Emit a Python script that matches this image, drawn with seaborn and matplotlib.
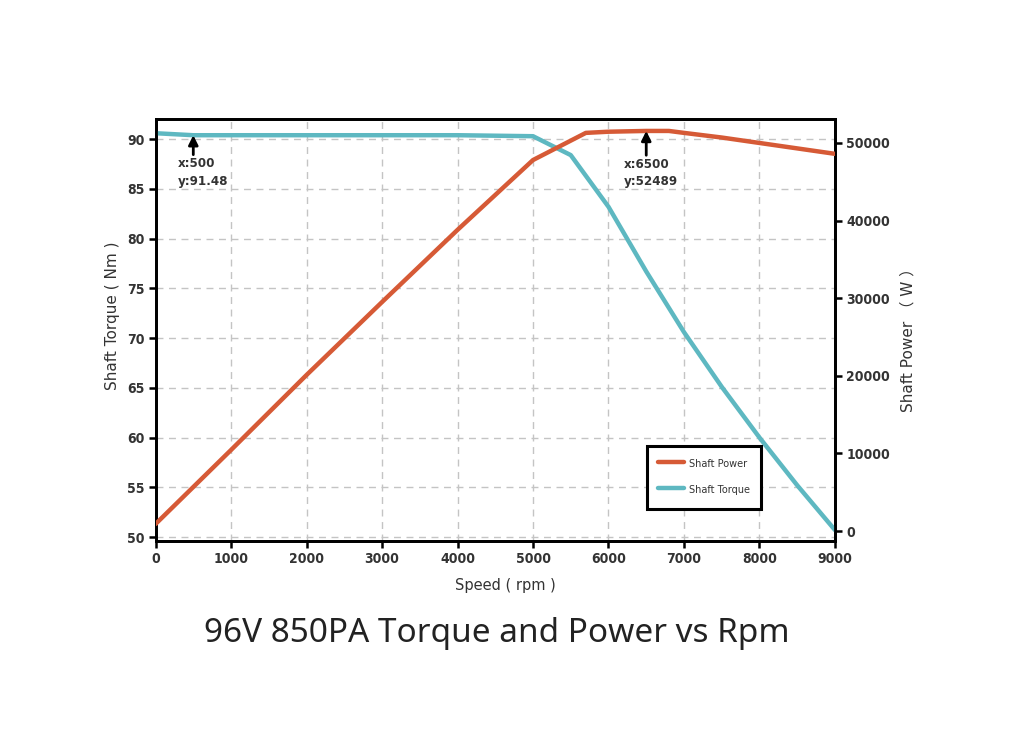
import matplotlib
matplotlib.use("Agg")
import matplotlib.pyplot as plt
from matplotlib import font_manager
import seaborn as sns

# ---------------- data ----------------
speed_torque = [0, 500, 1000, 2000, 3000, 4000, 5000, 5500, 6000, 6500, 7000, 7500, 8000, 8500, 9000]
torque_nm = [90.6, 90.4, 90.4, 90.4, 90.4, 90.4, 90.3, 88.4, 83.2, 76.7, 70.6, 65.1, 60.0, 55.2, 50.7]

speed_power = [0, 1000, 2000, 3000, 4000, 5000, 5500, 5700, 6000, 6500, 6800, 7000, 7500, 8000, 8500, 9000]
power_w = [900, 10440, 20100, 29500, 38800, 47800, 50300, 51300, 51450, 51550, 51550, 51300, 50700, 50000, 49300, 48600]

x_ticks = [0, 1000, 2000, 3000, 4000, 5000, 6000, 7000, 8000, 9000]
torque_ticks = [50, 55, 60, 65, 70, 75, 80, 85, 90]
power_ticks = [0, 10000, 20000, 30000, 40000, 50000]

annot_torque_x, annot_torque_y, annot_torque_text = 500, 90.4, "x:500\ny:91.48"
annot_power_x, annot_power_y, annot_power_text = 6500, 51550, "x:6500\ny:52489"

title_text = "96V 850PA Torque and Power vs Rpm"
xlabel_text = "Speed ( rpm )"
ylabel_left = "Shaft Torque ( Nm )"
ylabel_right = "Shaft Power （ W ）"
legend_power = "Shaft Power"
legend_torque = "Shaft Torque"

# ---------------- style ----------------
ORANGE = "#D65A36"
TEAL = "#5EB8C1"
TXT = "#333333"

sns.set_style("ticks")
plt.rcParams["font.family"] = ["DejaVu Sans", "Noto Sans CJK SC"]

installed = {f.name for f in font_manager.fontManager.ttflist}
title_font = "Noto Sans" if "Noto Sans" in installed else "DejaVu Sans"
NARROW = dict(fontfamily="DejaVu Sans", fontstretch="condensed", fontweight="bold")

fig = plt.figure(figsize=(10.24, 7.31), dpi=100)
fig.patch.set_facecolor("white")
ax = fig.add_axes([0.1519, 0.2599, 0.6635, 0.5769])
ax2 = ax.twinx()

sns.lineplot(x=speed_torque, y=torque_nm, ax=ax, color=TEAL, linewidth=3.2,
             legend=False, zorder=3)
sns.lineplot(x=speed_power, y=power_w, ax=ax2, color=ORANGE, linewidth=3.2,
             legend=False, zorder=3)

ax.set_xlim(0, 9000)
ax.set_ylim(49.6, 92.0)
ax2.set_ylim(-1290, 53050)
ax.set_xticks(x_ticks)
ax.set_yticks(torque_ticks)
ax2.set_yticks(power_ticks)

ax.grid(True, linestyle=(0, (5, 4)), color="#c4c4c4", linewidth=1.0)
ax2.grid(False)
ax.set_axisbelow(True)

for a in (ax, ax2):
    for s in a.spines.values():
        s.set_visible(True)
        s.set_linewidth(2.0)
        s.set_color("black")
    a.tick_params(direction="out", length=5, width=1.8, color="black",
                  labelsize=10, labelcolor=TXT, pad=3)
    for lab in a.get_xticklabels() + a.get_yticklabels():
        lab.set_fontfamily(NARROW["fontfamily"])
        lab.set_fontstretch(NARROW["fontstretch"])
        lab.set_fontweight(NARROW["fontweight"])

ax.set_xlabel(xlabel_text, fontsize=10.5, color=TXT)
ax.set_ylabel(ylabel_left, fontsize=11, color=TXT)
ax2.set_ylabel(ylabel_right, fontsize=11, color=TXT)
ax.xaxis.set_label_coords(0.515, -0.088)
ax.yaxis.set_label_coords(-0.052, 0.534)
ax2.yaxis.set_label_coords(1.096, 0.485)

# annotations: arrow + left-aligned text (offsets in points)
for a, x0, y0, txt, dx, arrow_len, text_dy in (
        (ax, annot_torque_x, annot_torque_y, annot_torque_text, -11.5, 14, -15.8),
        (ax2, annot_power_x, annot_power_y, annot_power_text, -16, 17.5, -19.4)):
    a.annotate("", xy=(x0, y0), xytext=(0, -arrow_len), textcoords="offset points",
               arrowprops=dict(arrowstyle="-|>", color="black", lw=2, mutation_scale=14,
                               shrinkA=0, shrinkB=0))
    a.annotate(txt, xy=(x0, y0), xytext=(dx, text_dy), textcoords="offset points",
               ha="left", va="top", fontsize=9.5, color=TXT, linespacing=1.45, **NARROW)

# legend
h_power = ax2.get_lines()[0]
h_torque = ax.get_lines()[0]
leg = ax2.legend([h_power, h_torque], [legend_power, legend_torque],
                 loc="lower left", bbox_to_anchor=(0.7233, 0.0759), borderaxespad=0,
                 fontsize=7, frameon=True, fancybox=False, edgecolor="black",
                 framealpha=1, handlelength=2.7, handletextpad=0.5, handleheight=2.05,
                 labelspacing=1.07, borderpad=1.15)
leg.get_frame().set_linewidth(2.2)
for t in leg.get_texts():
    t.set_color(TXT)

fig.text(0.485, 0.134, title_text, ha="center", va="center", fontsize=24,
         color="#222222", fontfamily=title_font)

fig.savefig("out.png", dpi=100, facecolor="white")
